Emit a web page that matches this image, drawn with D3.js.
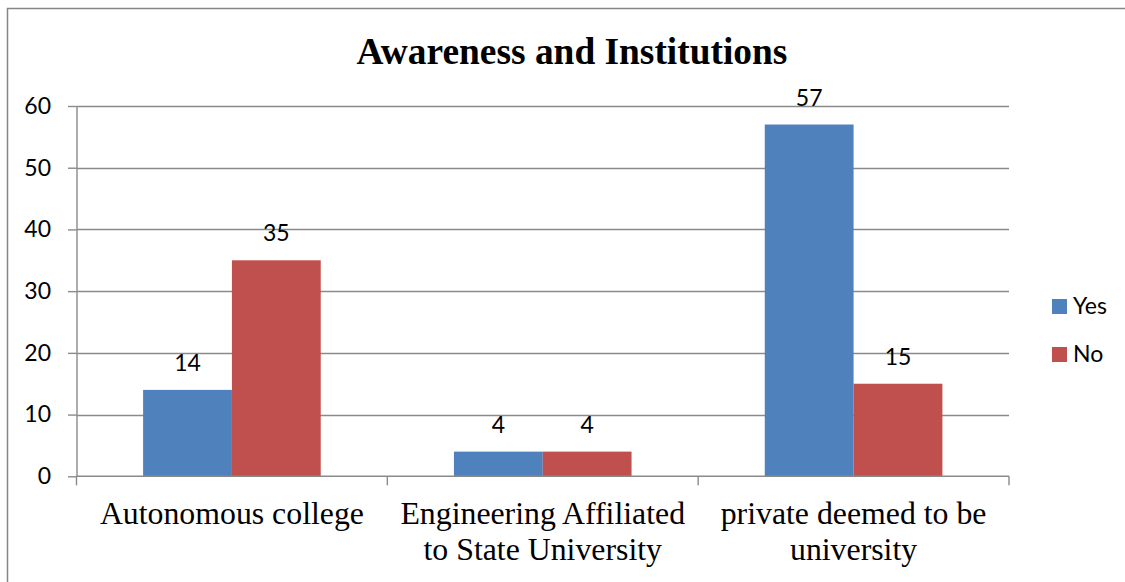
<!DOCTYPE html>
<html>
<head>
<meta charset="utf-8">
<script src="https://cdn.jsdelivr.net/npm/d3@7"></script>
<style>
  html, body { margin: 0; padding: 0; background: #fff; }
  svg { display: block; }
</style>
</head>
<body>
<svg id="chart" width="1125" height="582"></svg>
<script>
const title = "Awareness and Institutions";
const categories = ["Autonomous college", "Engineering Affiliated to State University", "private deemed to be university"];
const seriesNames = ["Yes", "No"];
const yesValues = [14, 4, 57];
const noValues = [35, 4, 15];
const yTicks = [0, 10, 20, 30, 40, 50, 60];
const colors = ["#4F81BD", "#C0504D"];

const seriesValues = [yesValues, noValues];
const svg = d3.select("#chart");
const W = 1125, H = 582;
const plot = { left: 76.5, right: 1009, top: 106, bottom: 476.3 };
const gridColor = "#8a8a8a";
const sansFont = "Lato, 'Open Sans', sans-serif";
const serifFont = "'Liberation Serif', 'Times New Roman', serif";

// outer border
svg.append("rect")
  .attr("x", 7.5).attr("y", 8.5)
  .attr("width", W + 20).attr("height", H + 20)
  .attr("fill", "#fff").attr("stroke", "#868686").attr("stroke-width", 1.5);

// title
svg.append("text")
  .attr("x", 572).attr("y", 63.5)
  .attr("text-anchor", "middle")
  .attr("font-family", serifFont).attr("font-weight", "bold").attr("font-size", 37.4)
  .attr("fill", "#000")
  .text(title);

const y = d3.scaleLinear().domain([0, 60]).range([plot.bottom, plot.top]);
const x0 = d3.scaleBand().domain(categories).range([plot.left, plot.right]).padding(0);
const bw = x0.bandwidth();
const barW = bw / 3.5;
const x1 = d3.scaleBand().domain(seriesNames).range([0.75 * barW, bw - 0.75 * barW]).padding(0);

// gridlines
svg.append("g").selectAll("line").data(yTicks.filter(d => d !== 0)).join("line")
  .attr("x1", plot.left).attr("x2", plot.right)
  .attr("y1", d => Math.round(y(d)) + 0.5).attr("y2", d => Math.round(y(d)) + 0.5)
  .attr("stroke", gridColor).attr("stroke-width", 1.4);

// bars
const groups = svg.append("g").selectAll("g").data(seriesNames).join("g")
  .attr("fill", (d, i) => colors[i]);
groups.selectAll("rect").data((s, si) => categories.map((c, ci) => ({ c, s, v: seriesValues[si][ci] })))
  .join("rect")
  .attr("x", d => x0(d.c) + x1(d.s))
  .attr("width", x1.bandwidth())
  .attr("y", d => y(d.v))
  .attr("height", d => y(0) - y(d.v));

// data labels
groups.selectAll("text").data((s, si) => categories.map((c, ci) => ({ c, s, v: seriesValues[si][ci] })))
  .join("text")
  .attr("x", d => x0(d.c) + x1(d.s) + x1.bandwidth() / 2)
  .attr("y", d => y(d.v) - 19)
  .attr("text-anchor", "middle")
  .attr("font-family", sansFont).attr("font-size", 23)
  .attr("fill", "#000")
  .text(d => d.v);

// y axis
const yAxis = svg.append("g")
  .attr("transform", `translate(${plot.left},0)`)
  .call(d3.axisLeft(y).tickValues(yTicks).tickSizeInner(8.5).tickSizeOuter(0).tickPadding(17).tickFormat(d3.format("d")));
yAxis.select(".domain").attr("stroke", gridColor).attr("stroke-width", 1.4);
yAxis.selectAll(".tick line").attr("stroke", gridColor).attr("stroke-width", 1.4);
yAxis.selectAll(".tick text").attr("font-family", sansFont).attr("font-size", 23).attr("fill", "#000");

// x axis line and boundary ticks
svg.append("line")
  .attr("x1", plot.left).attr("x2", plot.right)
  .attr("y1", y(0)).attr("y2", y(0))
  .attr("stroke", gridColor).attr("stroke-width", 1.4);
const bounds = categories.map(c => x0(c)).concat([x0(categories[categories.length - 1]) + bw]);
svg.append("g").selectAll("line").data(bounds).join("line")
  .attr("x1", d => d).attr("x2", d => d)
  .attr("y1", y(0)).attr("y2", y(0) + 9)
  .attr("stroke", gridColor).attr("stroke-width", 1.4);

// category labels with wrapping
const catG = svg.append("g");
categories.forEach(c => {
  const t = catG.append("text")
    .attr("x", x0(c) + bw / 2).attr("y", 524)
    .attr("text-anchor", "middle")
    .attr("font-family", serifFont).attr("font-size", 31.8)
    .attr("fill", "#000");
  const words = c.split(" ");
  let line = [];
  let tspan = t.append("tspan").attr("x", x0(c) + bw / 2).attr("dy", 0);
  words.forEach(w => {
    line.push(w);
    tspan.text(line.join(" "));
    if (tspan.node().getComputedTextLength() > bw - 10 && line.length > 1) {
      line.pop();
      tspan.text(line.join(" "));
      line = [w];
      tspan = t.append("tspan").attr("x", x0(c) + bw / 2).attr("dy", 35.5).text(w);
    }
  });
});

// legend
const legend = svg.append("g").selectAll("g").data(seriesNames).join("g")
  .attr("transform", (d, i) => `translate(1052, ${299 + i * 48})`);
legend.append("rect").attr("width", 15).attr("height", 15).attr("fill", (d, i) => colors[i]);
legend.append("text")
  .attr("x", 21).attr("y", 15)
  .attr("font-family", sansFont).attr("font-size", 23)
  .attr("fill", "#000")
  .text(d => d);
</script>
</body>
</html>
